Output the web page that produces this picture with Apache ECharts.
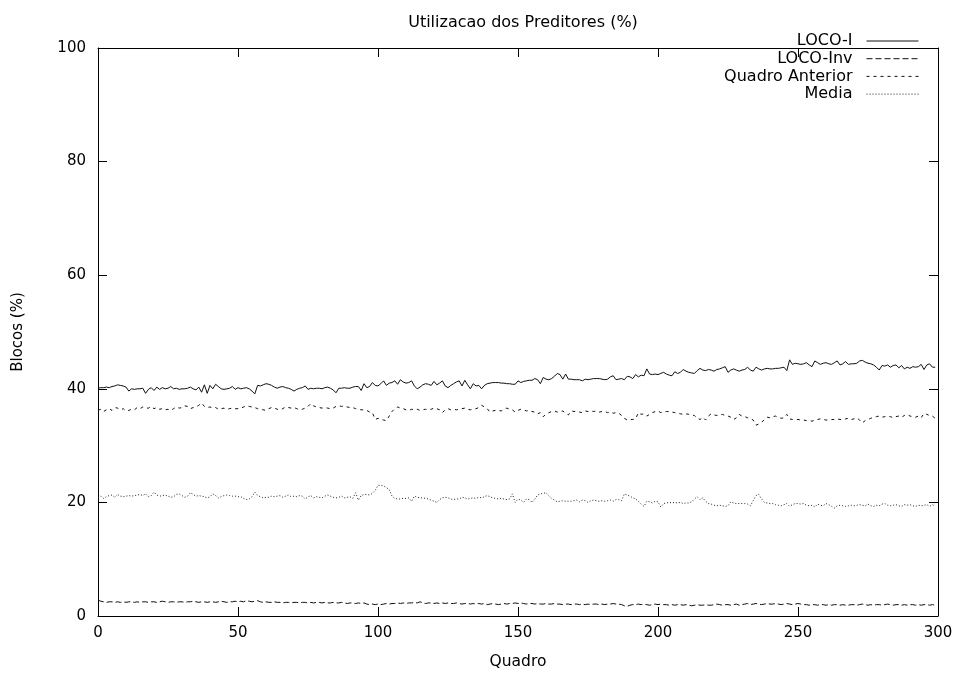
<!DOCTYPE html>
<html>
<head>
<meta charset="utf-8">
<script src="https://cdn.jsdelivr.net/npm/echarts@6/dist/echarts.min.js"></script>
<style>
html,body{margin:0;padding:0;background:#fff;}
#chart{width:962px;height:675px;}
</style>
</head>
<body>
<div id="chart"></div>
<script>
var title = 'Utilizacao dos Preditores (%)';
var xName = 'Quadro';
var yName = 'Blocos (%)';
var seriesNames = ['LOCO-I', 'LOCO-Inv', 'Quadro Anterior', 'Media'];
var xTicks = [0, 50, 100, 150, 200, 250, 300];
var yTicks = [0, 20, 40, 60, 80, 100];

// values per frame (Quadro 0..299)
var locoI = [
40.1,40.2,40.2,40.3,40.2,40.4,40.5,40.7,40.6,40.5,40.3,39.6,40.0,39.9,40.0,40.0,40.1,39.2,39.9,40.2,
39.7,40.3,39.9,40.2,40.0,40.1,40.4,40.0,40.1,39.9,40.0,40.0,40.1,40.3,40.0,39.8,40.3,39.4,40.7,39.2,
40.6,40.0,40.8,40.4,40.0,39.9,40.0,40.1,40.4,39.9,40.2,
40.0,40.1,40.2,40.0,39.6,39.1,40.6,40.5,40.7,40.9,40.8,40.6,40.3,40.1,40.3,40.4,40.2,40.1,39.9,39.6,
39.9,40.1,40.2,40.5,39.9,40.1,40.0,40.1,40.1,40.0,40.2,40.3,40.1,39.8,39.3,40.1,40.1,40.2,40.1,40.1,
40.3,40.4,40.4,39.7,40.9,40.2,40.4,41.1,40.6,40.5,
40.9,41.4,40.6,41.0,41.1,41.4,40.8,41.6,41.2,41.0,41.1,41.4,40.5,40.0,40.3,40.7,40.9,40.8,40.6,41.3,
40.7,41.0,41.4,40.5,40.2,40.6,40.9,41.2,41.4,40.5,41.5,40.7,40.0,40.9,40.5,40.6,40.0,40.6,40.9,41.0,
41.1,41.1,41.1,41.0,41.0,40.9,40.9,40.8,40.8,41.4,
41.1,41.3,41.4,41.5,41.5,41.8,41.6,40.9,42.0,41.7,41.6,41.8,42.2,42.7,42.5,41.7,42.6,41.7,41.7,41.6,
41.6,41.6,41.4,41.7,41.6,41.7,41.8,41.8,41.8,41.7,41.6,41.7,42.1,42.3,41.6,41.7,41.8,41.6,42.2,42.1,
41.8,42.5,42.1,42.4,42.3,43.5,42.6,42.5,42.6,42.5,
42.7,42.9,42.6,42.4,42.3,43.0,42.7,42.9,43.4,43.1,42.9,42.8,42.7,43.2,43.6,43.3,43.2,43.4,43.3,43.1,
43.4,43.5,43.7,43.9,42.9,43.3,43.5,43.3,43.1,43.3,43.4,43.8,43.3,43.1,43.8,43.5,43.3,43.5,43.6,43.5,
43.5,43.6,43.6,43.7,43.8,43.2,45.1,44.3,44.5,44.4,
44.3,44.4,44.6,44.2,43.9,44.9,44.6,44.3,44.5,44.6,44.4,44.3,44.6,44.9,44.2,44.4,44.8,44.3,44.4,44.4,
44.5,44.9,45.0,44.7,44.5,44.4,44.2,43.8,43.3,44.1,44.0,44.2,43.8,44.1,44.2,43.7,44.1,43.5,43.8,43.6,
43.9,43.8,43.9,44.3,43.4,44.2,44.4,43.8,43.8
];

var locoInv = [
2.8,2.6,2.5,2.4,2.5,2.5,2.4,2.5,2.4,2.5,2.4,2.5,2.5,2.4,2.5,2.4,2.5,2.5,2.4,2.5,
2.5,2.4,2.5,2.6,2.5,2.4,2.5,2.5,2.4,2.5,2.5,2.4,2.5,2.5,2.6,2.5,2.4,2.5,2.5,2.4,
2.5,2.5,2.4,2.5,2.6,2.5,2.4,2.5,2.5,2.6,
2.5,2.6,2.5,2.7,2.6,2.5,2.6,2.7,2.5,2.4,2.5,2.4,2.4,2.5,2.4,2.4,2.3,2.4,2.4,2.3,
2.4,2.4,2.3,2.4,2.4,2.3,2.4,2.3,2.4,2.4,2.3,2.4,2.3,2.3,2.4,2.3,2.3,2.4,2.3,2.2,
2.3,2.3,2.2,2.3,2.2,2.3,2.1,2.0,2.1,2.0,
2.1,2.0,2.1,2.2,2.1,2.2,2.2,2.3,2.2,2.3,2.2,2.3,2.3,2.4,2.3,2.5,2.3,2.2,2.3,2.3,
2.2,2.3,2.2,2.3,2.2,2.3,2.2,2.2,2.3,2.2,2.1,2.2,2.2,2.1,2.2,2.1,2.2,2.1,2.2,2.0,
2.1,2.2,2.1,2.0,2.1,2.2,2.1,2.2,2.2,2.3,
2.2,2.3,2.2,2.1,2.2,2.2,2.1,2.2,2.1,2.1,2.2,2.1,2.1,2.2,2.1,2.1,2.0,2.1,2.1,2.0,
2.1,2.1,2.0,2.1,2.0,2.1,2.0,2.1,2.1,2.0,2.1,2.0,2.1,2.1,2.2,2.1,2.1,2.0,1.8,1.7,
1.9,2.0,2.0,2.1,2.0,2.1,2.0,1.9,2.0,2.1,
2.0,2.1,2.0,2.0,1.9,2.0,1.9,2.0,2.0,1.9,2.0,1.9,1.8,1.9,2.0,1.9,1.9,2.0,1.9,1.9,
2.0,2.1,2.0,1.9,2.0,2.0,1.9,2.0,2.1,1.9,2.0,2.1,2.2,2.0,2.1,2.2,2.1,2.0,2.1,2.2,
2.1,2.1,2.2,2.1,2.0,2.1,2.2,2.1,2.0,2.1,
2.2,2.1,2.0,2.0,1.9,2.0,2.0,1.9,2.0,2.0,1.9,2.0,1.9,2.0,2.0,1.9,2.0,1.9,1.9,2.0,
2.0,1.9,2.0,2.1,2.0,1.9,2.0,1.9,2.0,2.0,1.9,2.0,2.1,2.0,1.9,2.0,2.0,1.9,2.0,1.9,
2.0,2.0,1.9,2.0,1.9,2.0,2.0,1.9,2.0,1.9
];

var quadroAnterior = [
36.2,36.4,36.0,36.3,36.5,36.2,36.7,36.6,36.3,36.5,36.1,36.2,36.4,36.3,36.7,36.5,36.8,36.6,36.6,36.9,
36.5,36.7,36.4,36.5,36.3,36.4,36.2,36.5,36.8,36.6,36.7,37.0,36.9,36.5,36.7,36.8,37.1,37.5,36.9,36.7,
36.8,36.6,36.7,36.4,36.5,36.6,36.4,36.5,36.6,36.5,36.5,
36.6,36.8,37.0,36.9,36.8,36.7,36.5,36.4,36.3,36.2,36.5,36.7,36.6,36.4,36.3,36.5,36.8,36.7,36.6,36.7,
36.5,36.3,36.4,36.6,36.9,37.4,37.0,36.8,36.7,36.6,36.7,36.6,36.5,36.6,36.9,37.0,36.9,37.0,36.8,36.7,
36.7,36.5,36.4,36.3,36.3,36.2,35.9,35.8,34.6,34.8,
34.7,34.5,34.4,35.2,36.0,36.5,36.8,36.6,36.5,36.3,36.2,36.4,36.3,36.4,36.2,36.3,36.4,36.3,36.4,36.6,
36.5,36.3,35.8,36.3,36.5,36.3,36.4,36.3,36.4,36.5,36.6,36.4,36.3,36.4,36.5,36.7,37.1,36.8,36.5,35.9,
36.1,36.2,36.2,36.1,36.4,36.6,36.4,36.3,35.9,36.2,
36.4,36.3,36.1,36.2,36.0,35.9,35.6,35.8,35.1,35.5,35.8,36.0,36.1,35.9,36.0,36.1,35.7,35.4,36.1,36.0,
36.1,35.9,35.8,36.1,36.0,36.1,36.0,36.1,35.9,36.0,36.0,35.8,35.9,35.7,35.8,35.7,35.3,34.8,34.5,34.6,
34.6,34.7,35.8,35.5,35.6,35.2,35.5,35.8,36.0,36.1,
35.8,35.9,36.0,36.0,35.9,35.8,35.7,35.6,35.5,35.6,35.5,35.4,35.3,34.8,34.6,35.0,34.5,35.2,35.6,35.4,
35.3,35.4,35.5,35.3,35.2,35.0,34.6,34.9,35.5,35.2,35.1,34.9,34.8,34.5,33.6,33.8,34.1,34.6,35.0,34.9,
35.1,35.2,35.0,34.8,34.9,35.5,34.7,34.6,34.6,34.6,
34.5,34.5,34.4,34.4,34.3,34.5,34.6,34.7,34.6,34.5,34.5,34.6,34.6,34.7,34.6,34.5,34.7,34.8,34.6,34.7,
34.9,34.5,34.0,34.4,34.6,34.8,35.0,35.1,35.2,35.0,35.1,35.2,35.1,34.9,35.1,35.2,35.0,35.3,35.5,35.2,
35.1,35.0,35.2,34.9,35.7,35.5,35.3,35.2,34.8
];

var media = [
20.8,21.1,20.7,21.0,21.2,21.3,20.9,21.4,21.1,21.0,21.1,21.2,21.1,21.2,21.3,21.4,21.2,21.5,21.0,21.2,
21.8,21.3,21.1,21.2,21.3,21.1,20.9,21.0,21.4,21.5,21.2,20.9,21.1,21.7,21.4,21.1,21.2,21.1,21.0,20.8,
21.0,21.5,21.2,20.8,21.0,21.2,21.3,21.2,21.1,21.1,21.0,
21.0,20.7,20.5,20.6,21.0,21.8,21.2,21.0,20.8,20.9,20.9,21.1,21.0,21.1,21.2,20.9,21.1,21.3,21.0,21.1,
21.0,21.2,21.1,20.6,21.0,21.2,20.8,21.0,20.9,20.8,21.1,21.3,21.1,20.9,20.8,20.9,21.1,20.8,20.9,21.0,
20.7,21.7,20.4,21.2,21.4,21.4,21.3,21.6,22.1,23.0,
23.0,22.9,22.6,22.3,21.1,20.7,20.6,20.6,20.7,20.7,20.8,20.2,21.1,20.9,20.8,20.8,20.7,20.6,20.4,20.2,
20.0,20.5,20.8,20.9,20.8,20.6,20.5,20.6,20.6,20.9,20.8,20.6,20.7,20.8,20.7,20.9,20.8,21.0,21.2,21.0,
20.8,20.7,20.6,20.7,20.6,20.5,20.6,21.5,20.0,20.6,
20.4,20.0,20.6,20.5,20.0,20.6,21.3,21.5,21.6,21.7,21.2,20.7,20.4,20.1,20.2,20.3,20.2,20.2,20.2,20.3,
20.4,20.1,20.4,20.3,20.0,20.3,20.4,20.3,20.2,20.3,20.2,20.3,20.4,20.2,20.5,20.5,20.3,21.5,21.3,21.1,
20.8,20.6,20.2,19.7,19.3,20.2,20.1,19.9,20.2,20.1,
19.2,19.8,19.9,20.0,19.9,20.0,19.9,20.0,19.8,19.9,19.9,20.1,20.6,21.0,20.5,20.8,20.2,19.8,19.7,19.5,
19.4,19.5,19.4,19.3,19.4,20.1,19.9,19.8,19.8,19.8,19.8,19.7,19.4,20.3,21.2,21.4,20.6,20.0,19.9,19.8,
19.8,19.6,19.5,19.4,19.6,19.8,19.3,19.6,19.8,19.8,
19.7,19.8,19.5,19.4,19.5,19.2,19.7,19.5,19.4,19.8,19.6,19.3,19.0,19.4,19.5,19.4,19.3,19.4,19.5,19.4,
19.5,19.6,19.5,19.4,19.7,19.4,19.3,19.5,19.4,19.7,19.8,19.5,19.4,19.5,19.6,19.4,19.3,19.6,19.5,19.6,
19.4,19.3,19.5,19.4,19.5,19.6,19.3,19.6,19.4
];

function pairs(arr) { return arr.map(function (v, i) { return [i, v]; }); }

var FONT = '"DejaVu Sans", "Liberation Sans", Arial, sans-serif';
var chart = echarts.init(document.getElementById('chart'), null, { renderer: 'canvas' });

var styles = [
  { type: 'solid', width: 1, color: '#111' },
  { type: [6, 3], width: 1, color: '#111' },
  { type: [3, 4], width: 1, color: '#111' },
  { type: [1, 2], width: 1, color: '#222' }
];
var datas = [locoI, locoInv, quadroAnterior, media];

var axisLineStyle = { color: '#000', width: 1 };
function axisBase(extra) {
  var a = {
    axisLine: { show: true, onZero: false, lineStyle: axisLineStyle },
    axisTick: { show: true, inside: true, length: 9, lineStyle: axisLineStyle },
    splitLine: { show: false }
  };
  for (var k in extra) a[k] = extra[k];
  return a;
}
var option = {
  backgroundColor: '#fff',
  animation: false,
  title: {
    text: title, left: 518, top: 10, textAlign: 'center',
    textStyle: { fontFamily: FONT, fontSize: 16, fontWeight: 'normal', color: '#000' }
  },
  legend: {
    orient: 'vertical', right: 38, top: 28, align: 'right',
    itemWidth: 52, itemHeight: 10, itemGap: 1.7,
    itemStyle: { opacity: 0 },
    lineStyle: { width: 1 },
    textStyle: { fontFamily: FONT, fontSize: 16, lineHeight: 16, color: '#000', padding: [0, 9, 0, 0] },
    data: seriesNames
  },
  grid: { left: 98, right: 24, top: 48, bottom: 58, containLabel: false },
  xAxis: [
    axisBase({
      type: 'value', min: xTicks[0], max: xTicks[xTicks.length - 1], interval: 50, position: 'bottom',
      name: xName, nameLocation: 'middle', nameGap: 38,
      nameTextStyle: { fontFamily: FONT, fontSize: 15.5, color: '#000' },
      axisLabel: { fontFamily: FONT, fontSize: 15, color: '#000', margin: 10 }
    }),
    axisBase({
      type: 'value', min: xTicks[0], max: xTicks[xTicks.length - 1], interval: 50, position: 'top',
      axisLabel: { show: false }
    })
  ],
  yAxis: [
    axisBase({
      type: 'value', min: yTicks[0], max: yTicks[yTicks.length - 1], interval: 20, position: 'left',
      name: yName, nameLocation: 'middle', nameGap: 72, nameRotate: 90,
      nameTextStyle: { fontFamily: FONT, fontSize: 15, color: '#000' },
      axisLabel: { fontFamily: FONT, fontSize: 15, color: '#000', margin: 12 }
    }),
    axisBase({
      type: 'value', min: yTicks[0], max: yTicks[yTicks.length - 1], interval: 20, position: 'right',
      axisLabel: { show: false }
    })
  ],
  series: seriesNames.map(function (n, k) {
    return {
      name: n, type: 'line', xAxisIndex: 0, yAxisIndex: 0,
      data: pairs(datas[k]), showSymbol: false, symbol: 'none',
      lineStyle: styles[k], itemStyle: { color: '#000' },
      emphasis: { disabled: true }
    };
  })
};
chart.setOption(option);
</script>
</body>
</html>
